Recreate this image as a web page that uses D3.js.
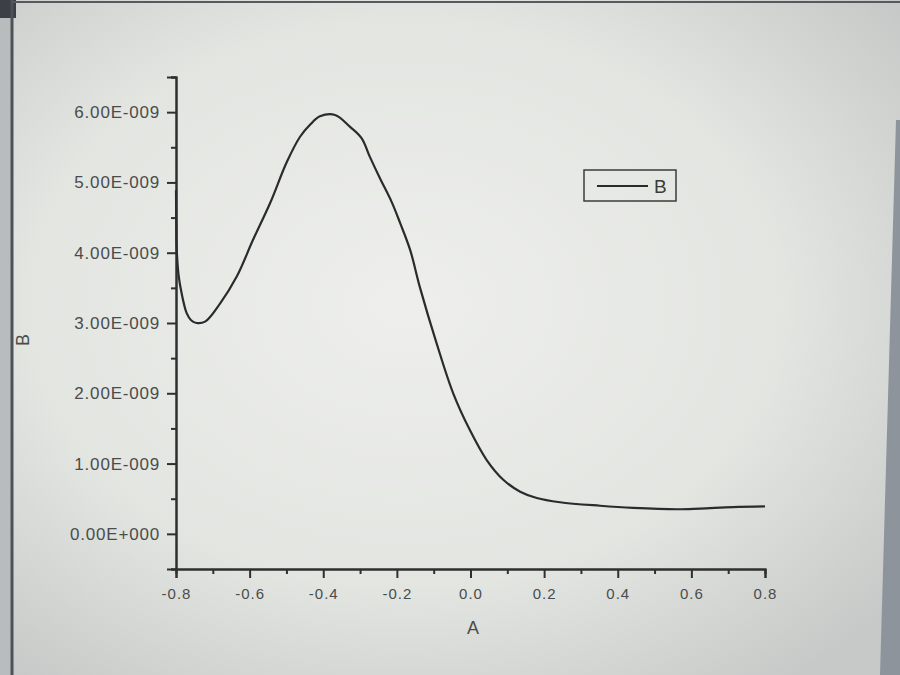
<!DOCTYPE html>
<html>
<head>
<meta charset="utf-8">
<script src="https://cdn.jsdelivr.net/npm/d3@7"></script>
<style>
  html, body { margin: 0; padding: 0; background: #d9dbd8; }
  svg { display: block; }
  text { font-family: "Liberation Sans", Arial, sans-serif; }
</style>
</head>
<body>
<svg id="chart" width="900" height="675"></svg>
<script>
// ---- data ----
const seriesName = "B";
const xLabel = "A";
const yLabel = "B";
const xValues = [-0.800, -0.799, -0.798, -0.793, -0.785, -0.771, -0.759, -0.744, -0.721, -0.680,
                 -0.635, -0.591, -0.544, -0.499, -0.463, -0.436, -0.409, -0.368, -0.327, -0.296,
                 -0.273, -0.246, -0.214, -0.191, -0.164, -0.137, -0.092, -0.047, -0.002, 0.044,
                  0.089, 0.135, 0.180, 0.243, 0.352, 0.442, 0.560, 0.624, 0.713, 0.800];
const yValues = [4.89e-9, 4.25e-9, 4.04e-9, 3.68e-9, 3.43e-9, 3.14e-9, 3.04e-9, 3.00e-9, 3.02e-9, 3.28e-9,
                 3.66e-9, 4.18e-9, 4.71e-9, 5.29e-9, 5.65e-9, 5.82e-9, 5.94e-9, 5.96e-9, 5.79e-9, 5.63e-9,
                 5.36e-9, 5.06e-9, 4.72e-9, 4.42e-9, 4.04e-9, 3.50e-9, 2.71e-9, 2.00e-9, 1.48e-9, 1.05e-9,
                 0.77e-9, 0.60e-9, 0.51e-9, 0.45e-9, 0.40e-9, 0.37e-9, 0.35e-9, 0.36e-9, 0.38e-9, 0.39e-9];
const xTicks = [-0.8, -0.6, -0.4, -0.2, 0.0, 0.2, 0.4, 0.6, 0.8];
const xTickLabels = ["-0.8", "-0.6", "-0.4", "-0.2", "0.0", "0.2", "0.4", "0.6", "0.8"];
const xMinorTicks = [-0.7, -0.5, -0.3, -0.1, 0.1, 0.3, 0.5, 0.7];
const yTicks = [0, 1e-9, 2e-9, 3e-9, 4e-9, 5e-9, 6e-9];
const yTickLabels = ["0.00E+000", "1.00E-009", "2.00E-009", "3.00E-009", "4.00E-009", "5.00E-009", "6.00E-009"];
const yMinorTicks = [-0.5e-9, 0.5e-9, 1.5e-9, 2.5e-9, 3.5e-9, 4.5e-9, 5.5e-9, 6.5e-9];

// ---- layout ----
const svg = d3.select("#chart");
const W = 900, H = 675;

// photographed-screen background
const defs = svg.append("defs");
const grad = defs.append("radialGradient").attr("id", "bg")
  .attr("cx", "45%").attr("cy", "45%").attr("r", "70%");
grad.append("stop").attr("offset", "0%").attr("stop-color", "#eeefec");
grad.append("stop").attr("offset", "60%").attr("stop-color", "#e3e5e1");
grad.append("stop").attr("offset", "100%").attr("stop-color", "#c6c9c7");
svg.append("rect").attr("width", W).attr("height", H).attr("fill", "url(#bg)");
// screen frame edges
svg.append("rect").attr("x", 0).attr("y", 0).attr("width", 12).attr("height", H).attr("fill", "#b9bcbc");
svg.append("rect").attr("x", 0).attr("y", 0).attr("width", 16).attr("height", 18).attr("fill", "#3c4046");
svg.append("line").attr("x1", 12).attr("x2", 12).attr("y1", 0).attr("y2", H).attr("stroke", "#4c5258").attr("stroke-width", 3);
svg.append("line").attr("x1", 12).attr("x2", W).attr("y1", 2).attr("y2", 2).attr("stroke", "#555a60").attr("stroke-width", 2);
svg.append("path").attr("d", "M896,120 L900,120 L900,675 L880,675 Z").attr("fill", "#8d949b");

const x = d3.scaleLinear().domain([-0.8, 0.8]).range([176, 765]);
const y = d3.scaleLinear().domain([-0.5e-9, 6.5e-9]).range([569, 77]);

const axisColor = "#2e3030";
const textColor = "#4a4c4c";

// x axis
const gx = svg.append("g").attr("transform", `translate(0,${y(-0.5e-9)})`);
gx.call(d3.axisBottom(x).tickValues(xTicks).tickSize(9).tickPadding(10)
  .tickFormat((d, i) => xTickLabels[i]));
gx.selectAll(".tick text").attr("fill", textColor).attr("font-size", 15).attr("letter-spacing", 1);
gx.append("g").call(d3.axisBottom(x).tickValues(xMinorTicks).tickSize(5).tickFormat(""));
gx.selectAll(".domain").attr("stroke", axisColor).attr("stroke-width", 2);
gx.selectAll(".tick line").attr("stroke", axisColor).attr("stroke-width", 2);

// y axis
const gy = svg.append("g").attr("transform", `translate(${x(-0.8)},0)`);
gy.call(d3.axisLeft(y).tickValues(yTicks).tickSize(9).tickPadding(7)
  .tickFormat((d, i) => yTickLabels[i]));
gy.selectAll(".tick text").attr("fill", textColor).attr("font-size", 17).attr("letter-spacing", 0.8);
gy.append("g").call(d3.axisLeft(y).tickValues(yMinorTicks).tickSize(5).tickFormat(""));
gy.selectAll(".domain").attr("stroke", axisColor).attr("stroke-width", 2);
gy.selectAll(".tick line").attr("stroke", axisColor).attr("stroke-width", 2);

// axis titles
svg.append("text").attr("x", 473).attr("y", 634).attr("text-anchor", "middle")
  .attr("font-size", 18).attr("fill", textColor).text(xLabel);
svg.append("text").attr("transform", "translate(29,340) rotate(-90)").attr("text-anchor", "middle")
  .attr("font-size", 18).attr("fill", textColor).text(yLabel);

// curve
const pts = xValues.map((v, i) => [v, yValues[i]]);
const line = d3.line().x(d => x(d[0])).y(d => y(d[1])).curve(d3.curveCatmullRom.alpha(0.5));
svg.append("path").datum(pts).attr("d", line)
  .attr("fill", "none").attr("stroke", "#2a2b2c").attr("stroke-width", 2.2);

// legend
const lg = svg.append("g");
lg.append("rect").attr("x", 584).attr("y", 170).attr("width", 92).attr("height", 31)
  .attr("fill", "none").attr("stroke", "#3a3c3c").attr("stroke-width", 1.5);
lg.append("line").attr("x1", 597).attr("x2", 648).attr("y1", 186).attr("y2", 186)
  .attr("stroke", "#2a2b2c").attr("stroke-width", 2.2);
lg.append("text").attr("x", 654).attr("y", 193).attr("font-size", 19).attr("fill", "#3a3c3c").text(seriesName);
</script>
</body>
</html>
